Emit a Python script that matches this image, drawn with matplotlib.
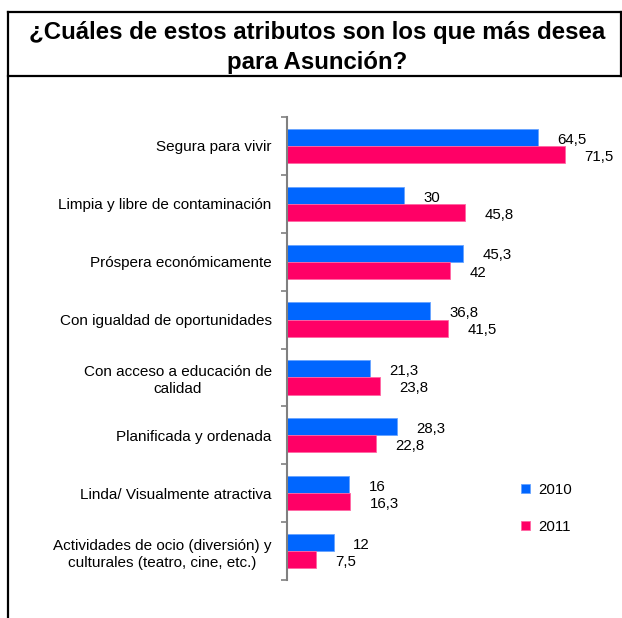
import matplotlib
matplotlib.use("Agg")
import matplotlib.pyplot as plt
from matplotlib.lines import Line2D
import numpy as np

plt.rcParams['font.family'] = ['Liberation Sans', 'DejaVu Sans']

title = "¿Cuáles de estos atributos son los que más desea\npara Asunción?"
categories = [
    "Segura para vivir",
    "Limpia y libre de contaminación",
    "Próspera económicamente",
    "Con igualdad de oportunidades",
    "Con acceso a educación de\ncalidad",
    "Planificada y ordenada",
    "Linda/ Visualmente atractiva",
    "Actividades de ocio (diversión) y\nculturales (teatro, cine, etc.)",
]
series_names = ["2010", "2011"]
values_2010 = [64.5, 30, 45.3, 36.8, 21.3, 28.3, 16, 12]
values_2011 = [71.5, 45.8, 42, 41.5, 23.8, 22.8, 16.3, 7.5]
labels_2010 = ["64,5", "30", "45,3", "36,8", "21,3", "28,3", "16", "12"]
labels_2011 = ["71,5", "45,8", "42", "41,5", "23,8", "22,8", "16,3", "7,5"]

W, H = 622, 618
fig = plt.figure(figsize=(W / 100, H / 100), dpi=100)

def fx(px):
    return px / W

def fy(py):
    return 1 - py / H

# frame lines
lw = 1.6
for (x0, y0, x1, y1) in [(8, 12, 621, 12), (8, 76, 621, 76), (8, 12, 8, 618), (621, 12, 621, 76)]:
    fig.add_artist(Line2D([fx(x0), fx(x1)], [fy(y0), fy(y1)], color="black", lw=lw,
                          transform=fig.transFigure))

fig.text(fx(317), fy(47.5), title, ha="center", va="center", fontsize=17.3, fontweight="bold",
         linespacing=1.38)

ax_left, ax_right, ax_top, ax_bot = 287, 598, 117, 580
ax = fig.add_axes([fx(ax_left), fy(ax_bot), fx(ax_right - ax_left), (ax_bot - ax_top) / H])

n = len(categories)
y = np.arange(n)
bh = 0.295
c1, c2 = "#0066FF", "#FF0066"
ax.barh(y - bh / 2, values_2010, height=bh, color=c1, edgecolor="#66A3FF", linewidth=0.6,
        label=series_names[0])
ax.barh(y + bh / 2, values_2011, height=bh, color=c2, edgecolor="#FF66A3", linewidth=0.6,
        label=series_names[1])

off = 5.0
fs = 10.8
for i in range(n):
    ax.text(values_2010[i] + off, y[i] - bh / 2 + 0.04, labels_2010[i], ha="left", va="center",
            fontsize=fs)
    ax.text(values_2011[i] + off, y[i] + bh / 2 + 0.04, labels_2011[i], ha="left", va="center",
            fontsize=fs)

ax.set_xlim(0, 80)
ax.set_ylim(n - 0.5, -0.5)
for s in ["top", "right", "bottom"]:
    ax.spines[s].set_visible(False)
ax.spines["left"].set_color("#808080")
ax.spines["left"].set_linewidth(1.5)
ax.set_xticks([])
ax.set_yticks(np.arange(n + 1) - 0.5)
ax.set_yticklabels([])
ax.tick_params(axis="y", which="major", length=4, width=1.2, color="#808080", direction="out")
ax.set_yticks(y, minor=True)
ax.set_yticklabels(categories, minor=True, fontsize=11, multialignment="center",
                   linespacing=1.3)
ax.tick_params(axis="y", which="minor", length=0, pad=11)

leg = ax.legend(loc="center left", bbox_to_anchor=(0.71, 0.155), frameon=False, fontsize=fs,
                handlelength=0.6, handleheight=0.6, labelspacing=1.55, handletextpad=0.55)

fig.savefig("out.png", dpi=100)
